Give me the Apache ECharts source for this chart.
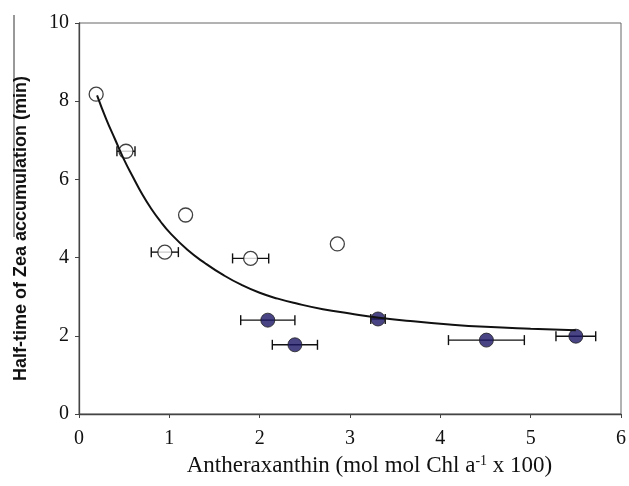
<!DOCTYPE html>
<html>
<head>
  <meta charset="utf-8">
  <script src="https://cdn.jsdelivr.net/npm/echarts@6/dist/echarts.min.js"></script>
  <style>
    html, body { margin: 0; padding: 0; background: #fff; }
    #chart { width: 629px; height: 486px; }
  </style>
</head>
<body>
  <div id="chart"></div>
  <script>
    // open circles: [x, y, xerr]
    let openPts = [
      [0.19, 8.18, 0],
      [0.52, 6.72, 0.1],
      [1.18, 5.09, 0],
      [0.95, 4.14, 0.15],
      [1.90, 3.98, 0.2],
      [2.86, 4.35, 0]
    ];
    // filled circles: [x, y, xerr]
    let filledPts = [
      [2.09, 2.40, 0.30],
      [2.39, 1.77, 0.25],
      [3.31, 2.43, 0.08],
      [4.51, 1.89, 0.42],
      [5.50, 1.99, 0.22]
    ];
    // fitted curve
    let curveX = [0.2, 0.3, 0.4, 0.5, 0.6, 0.7, 0.8, 0.9, 1.0, 1.2, 1.4, 1.6, 1.8, 2.0, 2.2, 2.4, 2.7, 3.0, 3.3, 3.7, 4.1, 4.5, 5.0, 5.5];
    let curveY = [8.15, 7.55, 7.02, 6.5, 6.05, 5.62, 5.25, 4.93, 4.65, 4.2, 3.85, 3.55, 3.3, 3.1, 2.95, 2.83, 2.68, 2.57, 2.47, 2.37, 2.29, 2.23, 2.18, 2.14];

    let xTicks = [0, 1, 2, 3, 4, 5, 6];
    let yTicks = [0, 2, 4, 6, 8, 10];

    let errData = openPts.concat(filledPts).filter(p => p[2] > 0);

    let myChart = echarts.init(document.getElementById('chart'));
    let serif = '"Liberation Serif", "Times New Roman", serif';

    let option = {
      animation: false,
      backgroundColor: '#fff',
      grid: {
        left: 79, right: 7, top: 23, bottom: 72,
        show: true, borderColor: '#666', borderWidth: 1
      },
      xAxis: {
        type: 'value',
        min: xTicks[0], max: xTicks[xTicks.length - 1], interval: 1,
        splitLine: { show: false },
        axisLine: { lineStyle: { color: '#444', width: 1.3 } },
        axisTick: { inside: false, length: 4, lineStyle: { color: '#444' } },
        axisLabel: { fontFamily: serif, fontSize: 20, color: '#111', margin: 15 },
        name: '{n|Antheraxanthin (mol mol Chl a}{s|-1}{n| x 100)}',
        nameLocation: 'middle',
        nameGap: 39,
        nameTextStyle: {
          padding: [0, 0, 0, 39],
          rich: {
            n: { fontFamily: serif, fontSize: 23, color: '#111' },
            s: { fontFamily: serif, fontSize: 14, color: '#111', padding: [0, 0, 11, 0] }
          }
        }
      },
      yAxis: {
        type: 'value',
        min: yTicks[0], max: yTicks[yTicks.length - 1], interval: 2,
        splitLine: { show: false },
        axisLine: { show: true, lineStyle: { color: '#444', width: 1.3 } },
        axisTick: { show: true, inside: false, length: 4, lineStyle: { color: '#444' } },
        axisLabel: { fontFamily: serif, fontSize: 20, color: '#111', margin: 10 },
        name: 'Half-time of Zea accumulation (min)',
        nameLocation: 'middle',
        nameGap: 49,
        nameTextStyle: {
          fontFamily: '"Liberation Sans", Arial, sans-serif',
          fontSize: 18, fontWeight: 'bold', color: '#111',
          padding: [0, 20, 0, 0]
        }
      },
      graphic: [{
        type: 'line',
        shape: { x1: 14, y1: 15, x2: 14, y2: 237 },
        style: { stroke: '#333', lineWidth: 1 }
      }],
      series: [
        {
          type: 'custom',
          z: 2,
          data: errData,
          renderItem: function (params, api) {
            let y = api.value(1), x = api.value(0), e = api.value(2);
            let a = api.coord([x - e, y]), b = api.coord([x + e, y]);
            let h = 5;
            let st = { stroke: '#111', lineWidth: 1.4 };
            return {
              type: 'group',
              children: [
                { type: 'line', shape: { x1: a[0], y1: a[1], x2: b[0], y2: b[1] }, style: st },
                { type: 'line', shape: { x1: a[0], y1: a[1] - h, x2: a[0], y2: a[1] + h }, style: st },
                { type: 'line', shape: { x1: b[0], y1: b[1] - h, x2: b[0], y2: b[1] + h }, style: st }
              ]
            };
          }
        },
        {
          type: 'scatter',
          z: 3,
          symbolSize: 14,
          data: openPts.map(p => [p[0], p[1]]),
          itemStyle: { color: '#fff', borderColor: '#111', borderWidth: 1.3 }
        },
        {
          type: 'scatter',
          z: 3,
          symbolSize: 14,
          data: filledPts.map(p => [p[0], p[1]]),
          itemStyle: { color: '#1c1766', borderColor: '#222', borderWidth: 1 }
        },
        {
          type: 'line',
          z: 4,
          smooth: true,
          showSymbol: false,
          data: curveX.map((x, i) => [x, curveY[i]]),
          lineStyle: { color: '#111', width: 2 }
        }
      ]
    };
    myChart.setOption(option);
  </script>
</body>
</html>
